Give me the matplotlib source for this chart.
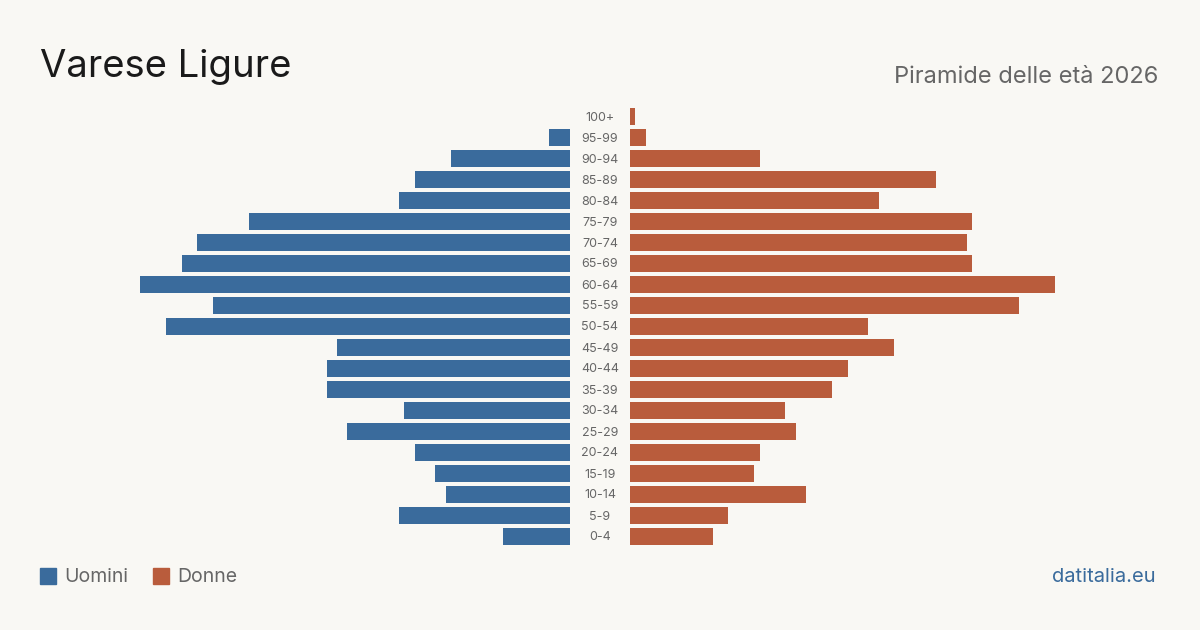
import matplotlib.pyplot as plt
from matplotlib.patches import Rectangle

# Age classes, from youngest to oldest
ages = ['0-4', '5-9', '10-14', '15-19', '20-24', '25-29', '30-34', '35-39',
        '40-44', '45-49', '50-54', '55-59', '60-64', '65-69', '70-74',
        '75-79', '80-84', '85-89', '90-94', '95-99', '100+']
uomini = [13, 33, 24, 26, 30, 43, 32, 47, 47, 45, 78, 69, 83, 75, 72, 62, 33, 30, 23, 4, 0]
donne = [16, 19, 34, 24, 25, 32, 30, 39, 42, 51, 46, 75, 82, 66, 65, 66, 48, 59, 25, 3, 1]

bg = '#f9f8f4'
blue = '#3a6b9c'
red = '#b95c3c'
grey = '#666666'

plt.rcParams['font.family'] = ['Inter', 'DejaVu Sans']

W, H = 1200, 630
fig = plt.figure(figsize=(12, 6.3), dpi=100, facecolor=bg)

px = 5.18           # pixels per person
half = 450          # width of each half in pixels
top, bottom = 106, 547
ax_b = (H - bottom) / H
ax_h = (bottom - top) / H

axl = fig.add_axes([(570 - half) / W, ax_b, half / W, ax_h])
axr = fig.add_axes([630 / W, ax_b, half / W, ax_h])

y = list(range(len(ages)))
axl.barh(y, uomini, height=0.81, color=blue)
axr.barh(y, donne, height=0.81, color=red)

for ax in (axl, axr):
    ax.set_ylim(-0.5, len(ages) - 0.5)
    ax.axis('off')
axl.set_xlim(half / px, 0)
axr.set_xlim(0, half / px)

# age labels in the gap
for i, a in enumerate(ages):
    yc = ax_b + (i + 0.5) / len(ages) * ax_h
    fig.text(600 / W, yc - 1 / H, a, ha='center', va='center', fontsize=9, color=grey)

fig.text(40 / W, 1 - 67 / H, 'Varese Ligure', fontsize=27.5, color='#1a1a1a',
         ha='left', va='center')
fig.text(1158 / W, 1 - 77 / H, 'Piramide delle età 2026', fontsize=17,
         color=grey, ha='right', va='center')

# legend
fig.patches.append(Rectangle((40 / W, 1 - 584 / H), 16 / W, 16 / H,
                             transform=fig.transFigure, color=blue))
fig.text(64 / W, 1 - 577 / H, 'Uomini', fontsize=14, color=grey, va='center')
fig.patches.append(Rectangle((153 / W, 1 - 584 / H), 16 / W, 16 / H,
                             transform=fig.transFigure, color=red))
fig.text(177 / W, 1 - 577 / H, 'Donne', fontsize=14, color=grey, va='center')

fig.text(1156 / W, 1 - 577 / H, 'datitalia.eu', fontsize=14.5, color=blue,
         ha='right', va='center')

fig.savefig('out.png', dpi=100, facecolor=bg)
